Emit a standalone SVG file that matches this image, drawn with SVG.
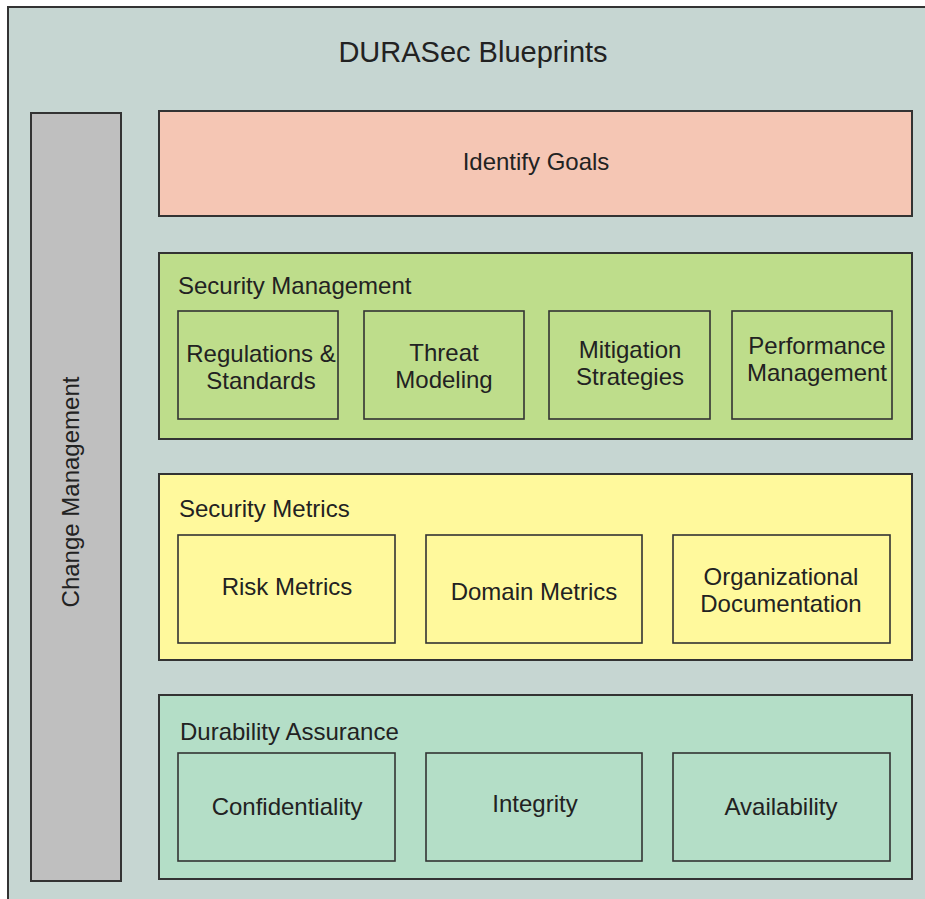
<svg xmlns="http://www.w3.org/2000/svg" width="925" height="899" viewBox="0 0 925 899">
  <style>
    text { font-family: "Liberation Sans", Arial, sans-serif; fill: #222; font-size: 24px; }
    .c { text-anchor: middle; }
    .frame { fill: #C6D6D2; stroke: #333; stroke-width: 2; }
    .big { stroke: #333; stroke-width: 2; }
    .sub { fill: none; stroke: #333; stroke-width: 1.6; }
  </style>
  <rect width="925" height="899" fill="#ffffff"/>
  <!-- outer frame, runs off the right and bottom edges -->
  <rect class="frame" x="8" y="7" width="940" height="920"/>
  <text class="c" x="473" y="62" style="font-size:29px">DURASec Blueprints</text>

  <g id="change-management">
    <rect class="big" x="31" y="113" width="90" height="768" fill="#BFBFBF"/>
    <text class="c" transform="translate(79,492) rotate(-90)">Change Management</text>
  </g>

  <g id="identify-goals">
    <rect class="big" x="159" y="111" width="753" height="105" fill="#F5C6B4"/>
    <text class="c" x="536" y="170">Identify Goals</text>
  </g>

  <g id="security-management">
    <rect class="big" x="159" y="253" width="753" height="186" fill="#BEDD8B"/>
    <text x="178" y="294">Security Management</text>
    <g id="regulations">
      <rect class="sub" x="178" y="311" width="160" height="108"/>
      <text class="c" x="261" y="362">Regulations &amp;</text>
      <text class="c" x="261" y="389">Standards</text>
    </g>
    <g id="threat-modeling">
      <rect class="sub" x="364" y="311" width="160" height="108"/>
      <text class="c" x="444" y="361">Threat</text>
      <text class="c" x="444" y="388">Modeling</text>
    </g>
    <g id="mitigation">
      <rect class="sub" x="549" y="311" width="161" height="108"/>
      <text class="c" x="630" y="358">Mitigation</text>
      <text class="c" x="630" y="385">Strategies</text>
    </g>
    <g id="performance">
      <rect class="sub" x="732" y="311" width="160" height="108"/>
      <text class="c" x="817" y="354">Performance</text>
      <text class="c" x="817" y="381">Management</text>
    </g>
  </g>

  <g id="security-metrics">
    <rect class="big" x="159" y="474" width="753" height="186" fill="#FFF99C"/>
    <text x="179" y="517">Security Metrics</text>
    <g id="risk-metrics">
      <rect class="sub" x="178" y="535" width="217" height="108"/>
      <text class="c" x="287" y="595">Risk Metrics</text>
    </g>
    <g id="domain-metrics">
      <rect class="sub" x="426" y="535" width="216" height="108"/>
      <text class="c" x="534" y="600">Domain Metrics</text>
    </g>
    <g id="org-doc">
      <rect class="sub" x="673" y="535" width="217" height="108"/>
      <text class="c" x="781" y="585">Organizational</text>
      <text class="c" x="781" y="612">Documentation</text>
    </g>
  </g>

  <g id="durability-assurance">
    <rect class="big" x="159" y="695" width="753" height="184" fill="#B4DEC7"/>
    <text x="180" y="740">Durability Assurance</text>
    <g id="confidentiality">
      <rect class="sub" x="178" y="753" width="217" height="108"/>
      <text class="c" x="287" y="815">Confidentiality</text>
    </g>
    <g id="integrity">
      <rect class="sub" x="426" y="753" width="216" height="108"/>
      <text class="c" x="535" y="812">Integrity</text>
    </g>
    <g id="availability">
      <rect class="sub" x="673" y="753" width="217" height="108"/>
      <text class="c" x="781" y="815">Availability</text>
    </g>
  </g>

  <g id="connectors"></g>
</svg>
